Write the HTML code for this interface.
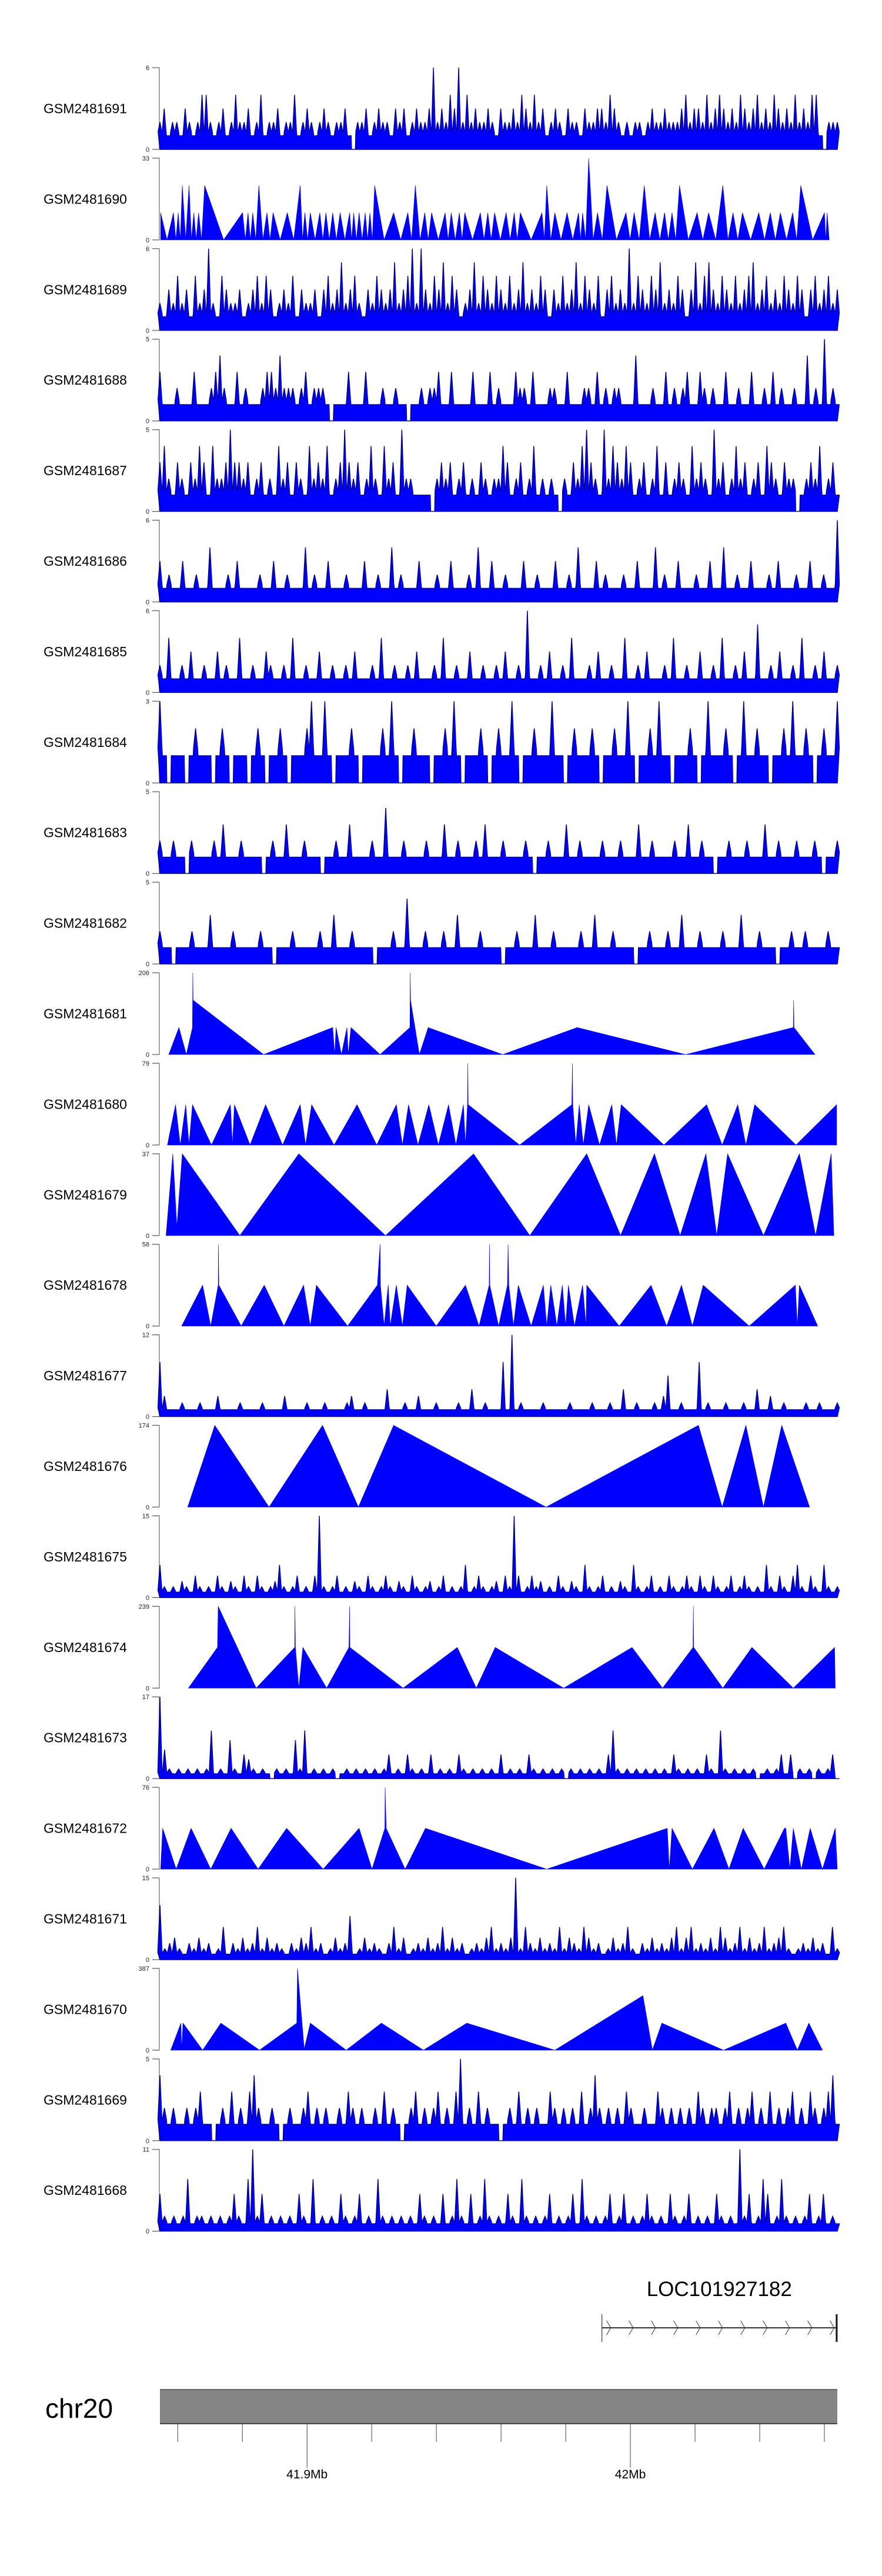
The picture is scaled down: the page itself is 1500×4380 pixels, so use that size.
<!DOCTYPE html>
<html><head><meta charset="utf-8"><style>
html,body{margin:0;padding:0;background:#fff;}
svg{display:block;}
text{font-family:"Liberation Sans",sans-serif;}
</style></head><body>
<svg id="chart" width="1500" height="4380" viewBox="0 0 1500 4380" xmlns="http://www.w3.org/2000/svg"></svg>
<script>
// ---- data ----
const sampleNames = ["GSM2481691","GSM2481690","GSM2481689","GSM2481688","GSM2481687","GSM2481686","GSM2481685","GSM2481684","GSM2481683","GSM2481682","GSM2481681","GSM2481680","GSM2481679","GSM2481678","GSM2481677","GSM2481676","GSM2481675","GSM2481674","GSM2481673","GSM2481672","GSM2481671","GSM2481670","GSM2481669","GSM2481668"];
const trackMax = [6,33,6,5,5,6,6,3,5,5,206,79,37,58,12,174,15,239,17,76,15,387,5,11];
// dense (binned) coverage tracks: values at evenly spaced bins
const v1691 = [2,3,1,2,2,1,3,2,1,2,4,4,2,1,2,3,1,2,4,2,2,3,1,2,4,1,2,2,3,1,2,2,4,1,2,3,2,1,2,3,2,1,2,2,3,1,0,2,2,3,1,2,3,2,2,1,3,2,3,1,2,3,2,2,3,6,2,3,2,4,3,6,2,4,2,3,2,2,3,2,1,3,2,2,3,2,4,3,2,4,2,3,1,2,3,2,1,3,2,2,1,3,2,2,3,3,2,4,3,2,1,2,1,2,2,1,2,3,2,2,3,2,2,2,3,4,2,3,3,2,4,2,3,4,3,2,3,2,4,3,2,3,4,2,3,2,4,3,2,3,2,4,2,3,2,4,4,1,0,2,2,2];
const v1689 = [2,1,3,2,4,2,3,1,4,2,3,6,2,1,4,3,2,2,3,1,2,3,4,2,4,3,1,2,3,2,4,1,3,2,2,3,1,3,4,2,3,5,2,3,4,2,1,3,2,4,3,2,3,5,2,3,4,6,2,6,3,2,4,3,5,2,4,3,1,2,3,5,2,4,3,2,4,3,2,4,2,3,5,2,3,2,4,3,1,3,2,4,2,3,5,2,4,3,2,4,1,3,4,2,3,2,6,2,4,3,2,4,3,5,2,3,2,4,3,1,3,5,2,4,5,3,2,4,3,2,4,2,3,4,5,2,3,4,2,3,2,4,3,2,4,3,1,3,4,2,3,4,2,3];
const v1688 = [3,1,1,1,2,1,1,1,3,1,1,1,2,3,4,2,1,1,3,1,2,1,1,1,2,3,3,2,4,2,2,2,1,2,3,1,2,2,2,1,0,1,1,1,3,1,1,1,3,1,1,1,2,1,1,2,1,1,0,1,1,2,1,2,2,3,1,1,3,1,1,1,1,3,1,1,1,3,1,2,1,1,1,3,2,2,1,3,1,1,1,2,2,1,1,3,1,1,1,2,2,1,3,1,2,1,2,2,1,1,1,4,1,1,1,2,1,1,3,1,2,1,2,3,1,1,3,2,1,2,1,1,3,1,1,2,1,1,3,1,1,2,1,3,1,2,1,1,2,1,1,4,1,2,1,5,1,2,1];
const v1687 = [3,4,2,1,3,2,1,3,2,4,3,1,4,2,2,3,5,3,3,2,3,1,2,3,1,2,1,4,2,3,1,3,2,1,4,2,3,2,4,1,2,3,5,3,2,3,1,2,4,2,1,4,2,3,1,5,2,2,1,1,1,1,0,2,3,2,3,1,2,3,1,2,1,3,2,1,2,2,4,3,1,2,3,1,2,4,1,2,1,2,1,0,2,1,3,2,4,5,3,2,1,5,2,4,3,2,4,3,1,2,3,1,2,4,1,3,1,2,3,2,1,4,2,3,2,1,5,2,3,1,2,4,2,3,1,2,3,1,4,3,2,1,3,2,2,0,1,2,3,2,4,1,2,3,1];
const v1686 = [3,1,2,1,1,3,1,1,2,1,1,4,1,1,1,2,1,3,1,1,1,1,2,1,1,3,1,1,2,1,1,1,4,1,2,1,1,3,1,1,1,2,1,1,1,3,1,1,2,1,1,4,1,2,1,1,1,3,1,1,1,2,1,1,3,1,1,1,2,1,4,1,1,3,1,1,2,1,1,1,3,1,1,2,1,1,1,3,1,1,2,1,4,1,1,1,3,1,2,1,1,1,2,1,1,3,1,1,1,4,1,2,1,1,3,1,1,1,2,1,1,3,1,1,4,1,1,2,1,1,3,1,1,1,2,1,3,1,1,1,2,1,1,3,1,1,2,1,1,6];
const v1685 = [2,1,4,1,1,2,1,3,1,1,2,1,1,3,1,2,1,1,4,1,1,2,1,1,3,2,1,1,2,1,4,1,1,2,1,1,3,1,1,2,1,1,2,1,3,1,1,1,2,1,4,1,1,2,1,1,2,1,3,1,1,1,2,1,4,1,1,2,1,1,3,1,1,2,1,1,2,1,3,1,1,2,1,6,1,1,2,1,3,1,1,2,1,4,1,1,1,2,1,3,1,1,2,1,1,4,1,1,2,1,3,1,1,1,2,1,4,1,1,2,1,1,3,1,1,2,1,4,1,1,2,1,3,1,1,5,1,1,2,1,3,1,1,2,1,4,1,1,2,1,3,1,1,2];
const v1684 = [3,1,0,1,1,1,0,1,2,1,1,1,0,1,2,1,0,1,1,1,0,1,2,1,0,1,1,2,1,0,1,1,1,2,3,1,1,3,1,0,1,1,1,2,1,0,1,1,1,1,2,1,3,1,0,1,1,2,1,1,1,0,1,1,2,1,3,1,0,1,1,1,2,1,0,1,2,1,1,3,1,0,1,1,2,1,1,1,3,1,1,0,1,2,1,1,1,2,1,0,1,1,2,1,1,3,1,0,1,1,2,1,3,1,1,0,1,1,1,2,1,0,1,3,1,1,1,2,1,0,1,3,1,1,2,1,1,0,1,1,2,1,3,1,1,2,1,0,1,2,1,1,3];
const v1683 = [2,1,1,2,1,1,0,2,1,1,1,1,2,1,3,1,1,1,2,1,1,1,1,0,1,2,1,1,3,1,1,1,2,1,1,1,0,1,1,2,1,1,3,1,1,1,1,2,1,1,4,1,1,1,2,1,1,1,1,2,1,1,1,3,1,1,2,1,1,1,2,1,3,1,1,1,2,1,1,1,1,2,1,0,1,1,2,1,1,1,3,1,1,2,1,1,1,1,2,1,1,1,2,1,1,1,3,1,1,2,1,1,1,1,2,1,1,3,1,1,2,1,1,0,1,1,2,1,1,1,2,1,1,1,3,1,1,2,1,1,1,2,1,1,1,2,1,0,1,1,2];
const v1682 = [2,1,1,0,1,1,1,2,1,1,1,3,1,1,1,1,2,1,1,1,1,1,2,1,1,0,1,1,1,2,1,1,1,1,1,2,1,1,3,1,1,1,2,1,1,1,1,0,1,1,1,2,1,1,4,1,1,1,2,1,1,1,2,1,1,3,1,1,1,1,2,1,1,1,1,0,1,1,2,1,1,1,3,1,1,1,2,1,1,1,1,1,2,1,1,3,1,1,1,2,1,1,1,1,0,1,1,2,1,1,1,2,1,1,3,1,1,1,2,1,1,1,1,2,1,1,1,3,1,1,1,2,1,1,1,0,1,1,2,1,1,2,1,1,1,1,2,1,1];
const v1677 = [8,3,1,1,1,2,1,1,1,2,1,1,1,3,1,1,1,1,2,1,1,1,1,2,1,1,1,1,3,1,1,1,1,2,1,1,1,2,1,1,1,1,2,3,1,1,2,1,1,1,1,4,1,1,1,2,1,1,3,1,1,1,2,1,1,1,1,2,1,1,4,1,1,2,1,1,1,8,1,12,1,2,1,1,1,1,2,1,1,1,1,1,2,1,1,1,1,2,1,1,1,2,1,1,4,1,1,2,1,1,1,2,1,3,6,1,1,2,1,1,1,8,1,2,1,1,1,2,1,1,1,2,1,1,4,1,1,3,1,1,2,1,1,1,1,2,1,1,2,1,1,1,2];
const v1675 = [6,2,1,2,1,3,2,1,4,2,1,2,1,4,2,1,3,2,1,4,2,1,4,2,1,2,3,6,2,1,2,4,1,2,1,4,15,2,1,2,4,1,2,1,3,2,1,4,2,1,2,4,2,1,3,2,1,4,2,1,2,3,1,2,4,1,2,1,2,6,1,2,4,2,1,2,3,1,4,2,15,4,1,2,4,2,3,1,2,1,4,2,1,3,2,1,6,2,1,2,4,1,2,1,3,2,1,6,2,1,2,4,1,2,1,4,2,1,2,4,2,1,4,2,1,4,2,1,2,4,1,2,4,2,1,2,1,6,2,1,4,2,1,4,6,2,1,4,2,1,6,2,1,2];
const v1673 = [17,6,2,1,2,1,2,1,2,1,2,10,1,2,1,8,2,1,5,4,2,1,2,1,0,2,1,2,1,8,2,10,1,2,1,2,1,2,0,1,2,1,2,1,2,1,2,1,2,5,1,2,1,5,2,1,2,1,5,1,2,1,2,1,5,2,1,2,1,2,1,2,1,5,1,2,1,2,1,5,2,1,2,1,2,1,2,0,2,1,2,1,2,1,2,1,5,10,2,1,2,1,2,1,2,1,2,1,2,1,5,2,1,2,1,2,1,5,2,1,10,2,1,2,1,2,1,2,0,1,2,1,2,5,1,5,0,2,1,2,0,2,1,2,5,0];
const v1671 = [10,2,3,4,2,1,3,2,4,2,3,1,2,6,1,3,2,4,2,3,6,2,4,2,3,2,1,3,2,4,3,6,2,3,1,2,4,2,3,8,1,2,4,2,3,2,1,3,6,2,4,1,2,3,2,4,2,3,6,2,4,2,3,1,2,3,2,4,6,2,3,2,4,15,2,6,3,2,4,2,3,2,6,2,4,3,2,6,4,2,3,1,2,4,2,3,6,2,1,3,2,4,2,3,2,4,6,2,4,6,2,3,2,4,2,6,4,2,3,6,2,4,2,3,6,2,3,4,6,2,1,2,3,2,4,2,3,1,6,2];
const v1669 = [4,2,1,2,1,1,2,1,2,3,1,1,0,1,2,1,3,1,2,1,3,4,2,1,1,2,1,0,1,2,1,1,2,3,1,2,1,2,1,1,2,1,3,2,1,2,1,1,2,1,3,1,2,1,0,1,2,3,1,2,1,2,3,1,2,1,3,5,1,2,1,3,1,2,1,1,0,1,2,1,3,1,2,1,2,1,1,3,2,1,2,1,2,1,3,1,2,4,2,1,2,1,2,1,3,2,1,1,2,1,1,3,2,1,2,1,2,1,2,1,3,2,1,2,2,1,2,3,1,2,1,2,3,1,2,1,3,1,2,1,2,3,1,2,1,3,2,1,2,3,4,1];
const v1668 = [5,2,1,2,1,2,7,1,2,2,1,2,1,2,1,2,5,2,1,7,11,2,5,1,2,1,2,1,2,1,5,2,1,7,1,2,1,2,1,5,2,1,2,5,1,2,1,7,2,1,2,1,2,1,2,1,5,2,1,2,1,5,1,2,7,2,1,5,1,2,7,2,1,2,1,5,2,1,7,2,1,2,1,2,5,1,2,1,2,5,1,7,2,1,2,1,2,5,1,2,5,1,2,1,2,5,2,1,2,1,5,2,1,2,5,1,2,1,2,1,5,2,1,2,1,11,2,5,1,2,7,5,1,2,7,2,1,2,1,2,5,1,2,5,1,2,1];
// sparse tracks: peak positions (bins 0-1000) and heights, valleys between peaks at 0
const pk1690 = [1,20,27,33,43,50,57,66,122,130,137,146,158,167,188,207,214,222,236,245,255,266,280,286,294,303,310,317,345,366,377,391,401,421,430,442,450,473,484,494,511,523,532,564,571,583,601,618,624,633,646,660,688,700,715,731,745,756,767,793,810,831,846,860,884,901,916,934,946,981,985];
const pv1690 = [11,11,11,22,22,11,11,22,11,11,11,22,11,11,11,22,11,11,11,11,11,11,11,11,11,11,11,22,11,11,22,11,11,11,11,11,11,11,11,11,11,11,11,11,22,11,11,11,11,33,11,22,11,11,22,11,11,11,22,11,11,22,11,11,11,11,11,11,22,11,11];
// explicit vertex tracks: positions (bins 0-1000) and values
const p1681 = [13,28,39,48,48.5,49,153,255,258,260,268,276,278,282,325,369,369.5,370,383,396,506,616,776,935,935.5,936,967];
const y1681 = [0,68,0,68,206,137,0,68,0,68,0,68,0,68,0,68,206,137,0,68,0,68,0,68,137,68,0];
const p1680 = [11,23,30,38,43,48,76,104,107,110,133,156,181,207,215,224,257,291,320,349,358,367,381,397,411,426,437,448,451,454,454.5,455,531,608,609,609.5,614,619,625,633,649,667,674,681,744,807,830,853,865,878,939,999];
const y1680 = [0,39,0,39,0,39,0,39,0,39,0,39,0,39,0,39,0,39,0,39,0,39,0,39,0,39,0,39,0,39,79,39,0,39,79,39,0,39,0,39,0,39,0,39,0,39,0,39,0,39,0,39];
const p1679 = [9,19,25,33,118,205,333,463,546,630,680,730,768,806,822,838,891,944,968,991,995];
const y1679 = [0,37,4,37,0,37,0,37,0,37,0,37,0,37,0,37,0,37,0,37,0];
const p1678 = [32,63,75,86,86.3,87,120,154,183,212,222,231,277,321,325,325.5,331,337,340,349,358,365,408,451,471,486,486.5,487,500,513,514,515,522,529,548,566,571,577,586,594,599,603,612,624,629,630,678,725,748,770,786,802,870,938,941,944,971];
const y1678 = [0,29,0,29,58,29,0,29,0,29,0,29,0,29,58,29,0,29,0,29,0,29,0,29,0,29,58,29,0,29,58,29,0,29,0,29,0,29,0,29,0,29,0,29,0,29,0,29,0,29,0,29,0,29,0,29,0];
const p1676 = [41,81,161,240,293,345,570,795,830,865,891,918,959];
const y1676 = [0,174,0,174,0,174,0,174,0,174,0,174,0];
const p1674 = [42,85,86,142,199,199.2,200,205,211,246,279,280,280.5,359,439,467,495,596,697,742,787,787.5,788,831,874,935,996,997];
const y1674 = [0,119,239,0,119,239,119,0,119,0,119,239,119,0,119,0,119,0,119,0,119,239,119,0,119,0,119,0];
const p1672 = [1,4,24,46,75,105,145,187,241,294,313,332,332.5,334,362,392,571,749,752,756,786,818,840,861,892,922,924,930,935,947,960,978,997,1000];
const y1672 = [0,38,0,38,0,38,0,38,0,38,0,38,76,38,0,38,0,38,0,38,0,38,0,38,0,38,38,0,38,0,38,0,38,0];
const p1670 = [16,31,32,34,63,90,147,202,203,213,222,275,327,389,453,583,713,727,741,832,924,941,958,978];
const y1670 = [0,128,0,128,0,128,0,128,387,5,128,0,128,0,128,0,258,0,128,0,128,0,128,0];
// genome axis
const genomeStartKb = 41854.5, genomeEndKb = 42064.0;
const axisTicksKb = [41860,41880,41900,41920,41940,41960,41980,42000,42020,42040,42060];
const axisLabelTicksKb = [41900,42000];
const axisLabels = ["41.9Mb","42Mb"];
const geneName = "LOC101927182";
const geneStartKb = 41991.2, geneEndKb = 42063.8;

// ---- drawing ----
const NS = "http://www.w3.org/2000/svg";
const svg = document.getElementById("chart");
const X0 = 272, X1 = 1424, TOP0 = 115, STEP = 153.9, PH = 139;
function bx(b){ return X0 + (b/1000)*(X1-X0); }
function gx(kb){ return X0 + (kb-genomeStartKb)/(genomeEndKb-genomeStartKb)*(X1-X0); }
function mk(tag, attrs, parent){ const e=document.createElementNS(NS,tag); for(const k in attrs) e.setAttribute(k,attrs[k]); (parent||svg).appendChild(e); return e; }

const dense = {"GSM2481691":v1691,"GSM2481689":v1689,"GSM2481688":v1688,"GSM2481687":v1687,"GSM2481686":v1686,"GSM2481685":v1685,"GSM2481684":v1684,"GSM2481683":v1683,"GSM2481682":v1682,"GSM2481677":v1677,"GSM2481675":v1675,"GSM2481673":v1673,"GSM2481671":v1671,"GSM2481669":v1669,"GSM2481668":v1668};
const vertex = {"GSM2481681":[p1681,y1681],"GSM2481680":[p1680,y1680],"GSM2481679":[p1679,y1679],"GSM2481678":[p1678,y1678],"GSM2481676":[p1676,y1676],"GSM2481674":[p1674,y1674],"GSM2481672":[p1672,y1672],"GSM2481670":[p1670,y1670]};

sampleNames.forEach((name,i)=>{
  const top = TOP0 + i*STEP, bot = top + PH, mx = trackMax[i];
  const g = mk("g",{});
  
  
  const yv = v => bot - (v/mx)*PH;
  const lab = mk("text",{x:74,y:top+PH/2+8,"font-size":23,fill:"#000"},g);
  lab.textContent = name;
  
  
  const ax = mk("line",{x1:271,y1:top,x2:271,y2:bot,stroke:"#888","stroke-width":1.5},g);
  
  
  [[top,mx],[bot,0]].forEach(([yy,t])=>{
    const tk = mk("line",{x1:259,y1:yy,x2:271,y2:yy,stroke:"#555","stroke-width":1.2},g);
    
    
    const tl = mk("text",{x:254,y:yy+4,"font-size":11,"text-anchor":"end",fill:"#222"},g);
    tl.textContent = t;
    
    
  });
  let pts = [];
  if (dense[name]) {
    const arr = dense[name], n = arr.length, s = (X1-X0)/(n-1);
    pts.push([X0,bot]);
    arr.forEach((v,k)=>{
      const x = bx(k*1000/(n-1)), fl = yv(Math.min(v,1.3));
      pts.push([x - 0.45*s, fl]);
      pts.push([x, yv(v)]);
      pts.push([x + 0.45*s, fl]);
    });
    pts.push([X1,bot]);
  } else if (vertex[name]) {
    const [ps,vs] = vertex[name];
    ps.forEach((p,k)=>pts.push([bx(p), yv(vs[k])]));
    pts.push([bx(ps[ps.length-1]),bot]); pts.unshift([bx(ps[0]),bot]);
  } else {
    const ps = pk1690, vs = pv1690;
    pts.push([bx(ps[0]),bot]);
    ps.forEach((p,k)=>{
      pts.push([bx(p), yv(vs[k])]);
      if (k < ps.length-1) pts.push([bx((p+ps[k+1])/2), bot]);
    });
    pts.push([bx(ps[ps.length-1]+3),bot]);
  }
  const area = mk("polygon",{points:pts.map(p=>p[0].toFixed(1)+","+p[1].toFixed(1)).join(" "),fill:"#0000ff",stroke: dense[name] ? "#00008c" : "#0000ee","stroke-width": dense[name] ? 1.4 : 0.6},g);
  
  
});

// gene track
const gg = mk("g",{});


const gs = gx(geneStartKb), ge = gx(geneEndKb);
const gl = mk("text",{x:(gs+ge)/2,y:3904,"font-size":35,"text-anchor":"middle",fill:"#000"},gg);
gl.textContent = geneName;


const gline = mk("line",{x1:gs,y1:3958,x2:ge,y2:3958,stroke:"#333","stroke-width":2},gg);


mk("line",{x1:gs,y1:3935,x2:gs,y2:3982,stroke:"#333","stroke-width":1.2},gg);
mk("line",{x1:ge,y1:3935,x2:ge,y2:3982,stroke:"#111","stroke-width":3},gg);
for (let x = gs+12; x < ge-5; x += 38) {
  const c = mk("polyline",{points:`${x-4},3946 ${x+3},3958 ${x-4},3970`,fill:"none",stroke:"#333","stroke-width":1},gg);
  
  
}

// ideogram / axis
const ig = mk("g",{});


const ct = mk("text",{x:77,y:4111,"font-size":46,fill:"#000"},ig);
ct.textContent = "chr20";


const cb = mk("rect",{x:X0,y:4063,width:X1-X0,height:58,fill:"#858585"},ig);


mk("line",{x1:X0,y1:4063,x2:X1,y2:4063,stroke:"#666","stroke-width":2},ig);
mk("line",{x1:X0,y1:4121,x2:X1,y2:4121,stroke:"#444","stroke-width":2},ig);
axisTicksKb.forEach(kb=>{
  const major = axisLabelTicksKb.includes(kb);
  const t = mk("line",{x1:gx(kb),y1:4122,x2:gx(kb),y2: major?4196:4152,stroke:"#444","stroke-width":1},ig);
  
  
});
axisLabelTicksKb.forEach((kb,k)=>{
  const t = mk("text",{x:gx(kb),y:4214,"font-size":21,"text-anchor":"middle",fill:"#000"},ig);
  t.textContent = axisLabels[k];
  
  
});
</script>
</body></html>
